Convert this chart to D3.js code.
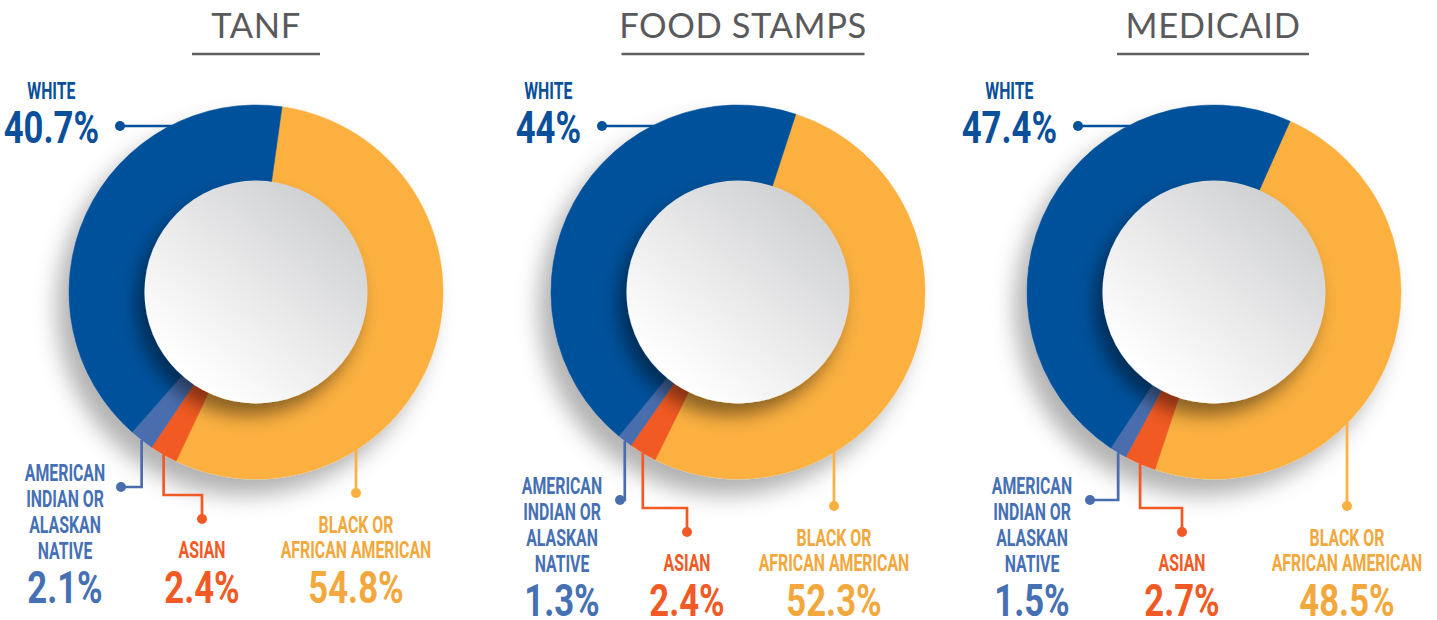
<!DOCTYPE html>
<html>
<head>
<meta charset="utf-8">
<script src="https://cdn.jsdelivr.net/npm/d3@7"></script>
<style>
  body { margin: 0; background: #fff; }
  svg { display: block; }
</style>
</head>
<body>
<div id="chart"></div>
<script>
// data (percent of recipients)
const programs = ["TANF", "FOOD STAMPS", "MEDICAID"];
const races = ["WHITE", "AIAN", "ASIAN", "BLACK"];
const whiteShare = [40.7, 44, 47.4];
const aianShare = [2.1, 1.3, 1.5];
const asianShare = [2.4, 2.4, 2.7];
const blackShare = [54.8, 52.3, 48.5];
const aianLabel = ["AMERICAN", "INDIAN OR", "ALASKAN", "NATIVE"];
const asianLabel = ["ASIAN"];
const blackLabel = ["BLACK OR", "AFRICAN AMERICAN"];
const whiteLabel = ["WHITE"];

const colors = {WHITE: "#03519b", AIAN: "#4a6dad", ASIAN: "#f15a24", BLACK: "#fbb040"};
const textColors = {WHITE: "#0a4f9a", AIAN: "#4670b4", ASIAN: "#f15a24", BLACK: "#f2a83c"};

// per panel placement
const panels = [
    {cx: 256, rot: 8, titleX: 256, ruleW: 128, dy: 0, aianDot: -135, aianText: -191, asianDot: -54, blackX: 100},
    {cx: 738, rot: 18, titleX: 743, ruleW: 243, dy: 13, aianDot: -118, aianText: -176, asianDot: -51, blackX: 96},
    {cx: 1214, rot: 24, titleX: 1213, ruleW: 192, dy: 13, aianDot: -124, aianText: -182, asianDot: -32, blackX: 133}
];

const width = 1437, height = 620;
const cy = 292, outerR = 187, holeR = 111.5;
const smallSize = 24, bigSize = 45, squeeze = 0.66, bigSqueeze = 0.77;

const svg = d3.select("#chart").append("svg")
    .attr("width", width)
    .attr("height", height);

const defs = svg.append("defs");

const ringShadow = defs.append("filter").attr("id", "ringShadow")
    .attr("x", "-40%").attr("y", "-40%").attr("width", "180%").attr("height", "180%");
ringShadow.append("feDropShadow")
    .attr("dx", -12).attr("dy", 16).attr("stdDeviation", 11)
    .attr("flood-color", "#000").attr("flood-opacity", 0.3);

const holeShadow = defs.append("filter").attr("id", "holeShadow")
    .attr("x", "-40%").attr("y", "-40%").attr("width", "180%").attr("height", "180%");
holeShadow.append("feDropShadow")
    .attr("dx", -8).attr("dy", 12).attr("stdDeviation", 9)
    .attr("flood-color", "#000").attr("flood-opacity", 0.45);

const holeGrad = defs.append("linearGradient").attr("id", "holeGrad")
    .attr("x1", "85%").attr("y1", "12%").attr("x2", "20%").attr("y2", "88%");
holeGrad.append("stop").attr("offset", "0%").attr("stop-color", "#cfd0d2");
holeGrad.append("stop").attr("offset", "55%").attr("stop-color", "#ebebec");
holeGrad.append("stop").attr("offset", "100%").attr("stop-color", "#ffffff");

const arc = d3.arc().innerRadius(holeR - 2).outerRadius(outerR);

// squeezed text to mimic the condensed display face
function condText(g, x, y, str, size, fill, sx, anchor) {
    g.append("g")
        .attr("transform", "translate(" + x + "," + y + ") scale(" + sx + ",1)")
        .append("text")
        .attr("text-anchor", anchor || "middle")
        .attr("font-family", "Roboto, sans-serif")
        .attr("font-weight", 700)
        .attr("font-size", size)
        .attr("fill", fill)
        .text(str);
}

function leader(g, pts, color, dot) {
    g.append("path")
        .attr("d", d3.line()(pts))
        .attr("fill", "none")
        .attr("stroke", color)
        .attr("stroke-width", 2.7);
    g.append("circle")
        .attr("cx", dot[0]).attr("cy", dot[1]).attr("r", 5)
        .attr("fill", color);
}

programs.forEach((name, i) => {
    const p = panels[i];
    const g = svg.append("g").attr("transform", "translate(" + p.cx + ",0)");

    // title with rule
    const tx = p.titleX - p.cx;
    g.append("text")
        .attr("x", tx).attr("y", 38)
        .attr("text-anchor", "middle")
        .attr("font-family", "Lato, sans-serif")
        .attr("font-weight", 400)
        .attr("font-size", 34.5)
        .attr("letter-spacing", 0.6)
        .attr("fill", "#5a5a5c")
        .text(name);
    g.append("line")
        .attr("x1", tx - p.ruleW / 2).attr("x2", tx + p.ruleW / 2)
        .attr("y1", 54).attr("y2", 54)
        .attr("stroke", "#606062").attr("stroke-width", 2.6);

    // donut: black first, clockwise from the panel's rotation
    const values = [
        {race: "BLACK", v: blackShare[i]},
        {race: "ASIAN", v: asianShare[i]},
        {race: "AIAN", v: aianShare[i]},
        {race: "WHITE", v: whiteShare[i]}
    ];
    const start = p.rot * Math.PI / 180;
    const pie = d3.pie().sort(null).value(d => d.v)
        .startAngle(start).endAngle(start + 2 * Math.PI);
    const arcs = pie(values);

    const donut = g.append("g").attr("transform", "translate(0," + cy + ")");
    donut.append("g")
        .attr("filter", "url(#ringShadow)")
        .selectAll("path")
        .data(arcs)
        .join("path")
        .attr("d", arc)
        .attr("fill", d => colors[d.data.race])
        .attr("stroke", d => colors[d.data.race])
        .attr("stroke-width", 0.6);

    donut.append("circle")
        .attr("r", holeR)
        .attr("fill", "url(#holeGrad)")
        .attr("filter", "url(#holeShadow)");

    const byRace = {};
    arcs.forEach(a => byRace[a.data.race] = a);
    const rimPoint = a => {
        const mid = (a.startAngle + a.endAngle) / 2;
        return [outerR * Math.sin(mid), cy - outerR * Math.cos(mid)];
    };
    const dy = p.dy;
    const fmt = v => v + "%";

    // white
    const wy = 126;
    const wx = -Math.sqrt(outerR * outerR - (wy - cy) * (wy - cy));
    const wDot = -136;
    leader(g, [[wDot, wy], [wx + 2, wy]], colors.WHITE, [wDot, wy]);
    const wPctRight = wDot - 21;
    const tmp = g.append("g");
    condText(tmp, wPctRight, 143, fmt(whiteShare[i]), bigSize, textColors.WHITE, bigSqueeze, "end");
    const bb = tmp.node().getBBox();
    const wMid = bb.x + bb.width / 2;
    condText(g, wMid, 99, whiteLabel[0], smallSize, textColors.WHITE, squeeze);

    // american indian or alaskan native
    const ap = rimPoint(byRace.AIAN);
    const aElbow = 487 + dy;
    leader(g, [[ap[0], ap[1]], [ap[0], aElbow], [p.aianDot, aElbow]], colors.AIAN, [p.aianDot, aElbow]);
    aianLabel.forEach((t, k) => condText(g, p.aianText, 481 + dy + k * 26, t, smallSize, textColors.AIAN, squeeze));
    condText(g, p.aianText, 603 + dy, fmt(aianShare[i]), bigSize, textColors.AIAN, bigSqueeze);

    // asian
    const sp = rimPoint(byRace.ASIAN);
    const sElbow = 495 + dy, sDotY = 519 + dy;
    leader(g, [[sp[0], sp[1]], [sp[0], sElbow], [p.asianDot, sElbow], [p.asianDot, sDotY]], colors.ASIAN, [p.asianDot, sDotY]);
    condText(g, p.asianDot, 558 + dy, asianLabel[0], smallSize, textColors.ASIAN, squeeze);
    condText(g, p.asianDot, 603 + dy, fmt(asianShare[i]), bigSize, textColors.ASIAN, bigSqueeze);

    // black or african american
    const by = cy + Math.sqrt(outerR * outerR - p.blackX * p.blackX);
    const bDotY = 493 + dy;
    leader(g, [[p.blackX, by - 2], [p.blackX, bDotY]], colors.BLACK, [p.blackX, bDotY]);
    blackLabel.forEach((t, k) => condText(g, p.blackX, 533 + dy + k * 25, t, smallSize, textColors.BLACK, squeeze));
    condText(g, p.blackX, 603 + dy, fmt(blackShare[i]), bigSize, textColors.BLACK, bigSqueeze);
});
</script>
</body>
</html>
